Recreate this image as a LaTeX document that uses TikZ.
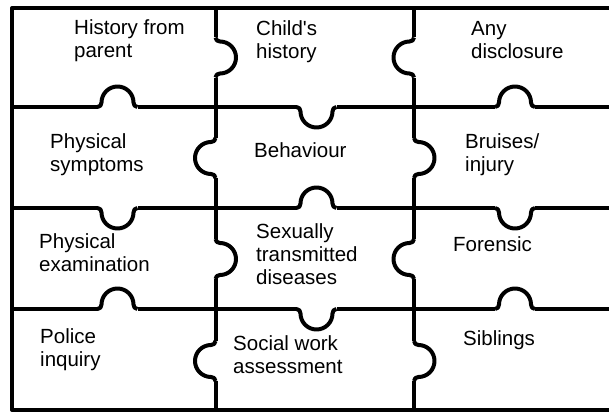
\documentclass[tikz,border=0pt]{standalone}
\usepackage{fontspec}
\setmainfont{Liberation Sans}[Ligatures=TeXOff]
\newcommand{\tabpath}{(-20,0) .. controls (-17.5,0) and (-16,2) .. (-16,4.5) arc[start angle=180,end angle=0,radius=16] .. controls (16,2) and (17.5,0) .. (20,0)}
\begin{document}
\begin{tikzpicture}[x=1pt,y=-1pt,
  puzzle/.style={line width=4pt,line cap=butt,line join=round,black},
  lbl/.style={anchor=base west,inner sep=0pt,align=left,font=\fontsize{20.5}{23}\selectfont}]
\clip (0,0) rectangle (609,412);
\fill[white] (0,0) rectangle (609,412);
% outer frame
\draw[puzzle] (615,8) -- (12,8) -- (12,410) -- (615,410);
% horizontal inner lines
\foreach \y in {107,208,309}{
  \draw[puzzle] (12,\y) -- (97.5,\y) (137.5,\y) -- (296.5,\y) (336.5,\y) -- (495,\y) (535,\y) -- (615,\y);
}
% vertical inner lines
\foreach \x in {215.5,414}{
  \draw[puzzle] (\x,8) -- (\x,37.5) (\x,77.5) -- (\x,138) (\x,178) -- (\x,239) (\x,279) -- (\x,341) (\x,381) -- (\x,410);
}
% tabs: x / y / rotation (0 down, 180 up, 90 right, -90 left)
\foreach \tx/\ty/\tr in {117.5/107/180, 316.5/107/0, 515/107/180,
                         117.5/208/0, 316.5/208/180, 515/208/0,
                         117.5/309/180, 316.5/309/0, 515/309/180,
                         215.5/57.5/90, 215.5/158/-90, 215.5/259/90, 215.5/361/-90,
                         414/57.5/-90, 414/158/90, 414/259/-90, 414/361/90}{
  \draw[puzzle,shift={(\tx,\ty)},rotate=\tr] \tabpath;
}
% labels (anchor = baseline of the last line)
\node[lbl] (hp) at (74,57) {History from\\parent};
\node[lbl] (ch) at (256,59) {Child's\\history};
\node[lbl] (ad) at (471,58) {Any\\disclosure};
\node[lbl] (ps) at (50,171) {Physical\\symptoms};
\node[lbl] (be) at (254,157) {Behaviour};
\node[lbl] (bi) at (465,171) {Bruises/\\injury};
\node[lbl] (pe) at (39,271) {Physical\\examination};
\node[lbl] (st) at (256,284) {Sexually\\transmitted\\diseases};
\node[lbl] (fo) at (453,251) {Forensic};
\node[lbl] (pi) at (40,366) {Police\\inquiry};
\node[lbl] (sw) at (233,373) {Social work\\assessment};
\node[lbl] (si) at (463,345) {Siblings};
\end{tikzpicture}
\end{document}
